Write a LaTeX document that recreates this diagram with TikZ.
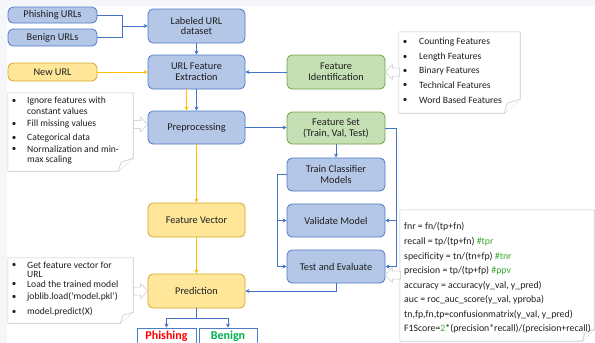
\documentclass[tikz,border=0pt]{standalone}
\usepackage{fontspec}
\setmainfont{Carlito}
\usetikzlibrary{arrows.meta,calc}
\definecolor{bFill}{HTML}{B4C7E7}
\definecolor{bBorder}{HTML}{4F7BC8}
\definecolor{gFill}{HTML}{C5E0B4}
\definecolor{gBorder}{HTML}{6FA34A}
\definecolor{yFill}{HTML}{FFE699}
\definecolor{yBorder}{HTML}{D4AA2A}
\definecolor{bLine}{HTML}{4472C4}
\definecolor{yLine}{HTML}{FFC000}
\definecolor{noteLine}{HTML}{C8C8C8}
\definecolor{txt}{HTML}{1E1E1E}
\definecolor{hashG}{HTML}{3BAA34}
\definecolor{phRed}{HTML}{FF0000}
\definecolor{bnGreen}{HTML}{00B050}
\definecolor{bgFrame}{HTML}{F4F6FA}
\tikzset{
  box/.style={rounded corners=5, minimum width=97, minimum height=34, align=center,
    font=\fontsize{10.3}{10.8}\selectfont, text=txt, inner sep=1, line width=0.8},
  bluebox/.style={box, draw=bBorder, fill=bFill},
  greenbox/.style={box, draw=gBorder, fill=gFill},
  yellowbox/.style={box, draw=yBorder, fill=yFill},
  outbox/.style={draw=bBorder, fill=white, line width=0.8, minimum width=59, minimum height=17,
    font=\fontsize{12}{13}\selectfont\bfseries, inner sep=0},
  bl/.style={draw=bLine, line width=1, -{Stealth[length=4,width=4]}},
  blp/.style={draw=bLine, line width=1},
  yl/.style={draw=yLine, line width=1, -{Stealth[length=4,width=4]}},
  notepath/.style={draw=noteLine, fill=white, line width=0.6},
  hollow/.style={draw=gray!45, fill=white, line width=0.5},
  notetxt/.style={anchor=west, inner sep=0, text=txt, font=\fontsize{9.6}{10}\selectfont},
  mtxt/.style={anchor=west, inner sep=0, text=txt, font=\fontsize{9.8}{10}\selectfont},
  bul/.style={anchor=center, inner sep=0, text=txt, font=\fontsize{9}{10}\selectfont},
  frame/.style={inner sep=0, minimum width=0, minimum height=0}
}
\begin{document}
\begin{tikzpicture}[x=1pt, y=-1pt]
\useasboundingbox (0,0) rectangle (595,343);
\clip (0,0) rectangle (595,343);
\fill[bgFrame] (0,0) rectangle (595,343);
\fill[white] (7,6) rectangle (595,343);

% main boxes
\node[bluebox, minimum width=89, minimum height=16] (phish) at (52.5,15) {Phishing URLs};
\node[bluebox, minimum width=89, minimum height=17] (benign) at (52.5,37.5) {Benign URLs};
\node[yellowbox, minimum width=89, minimum height=18] (newurl) at (52.5,72) {New URL};
\node[bluebox] (labeled) at (196.5,26) {Labeled URL\\dataset};
\node[bluebox] (extract) at (196.5,72) {URL Feature\\Extraction};
\node[greenbox, minimum width=98] (featid) at (336,72) {Feature\\Identification};
\node[bluebox, minimum height=33] (prep) at (196.5,127.5) {Preprocessing};
\node[greenbox, minimum width=98, minimum height=32] (featset) at (336,128) {Feature Set\\(Train, Val, Test)};
\node[bluebox, minimum width=98, minimum height=33] (train) at (336,174.5) {Train Classifier\\Models};
\node[bluebox, minimum width=98, minimum height=33] (validate) at (336,220.5) {Validate Model};
\node[bluebox, minimum width=98, minimum height=33] (testeval) at (336,266.5) {Test and Evaluate};
\node[yellowbox] (fvec) at (196.5,220) {Feature Vector};
\node[yellowbox] (pred) at (196.5,291) {Prediction};
\node[outbox, text=phRed] (phout) at (166.5,336.5) {Phishing};
\node[outbox, minimum width=58, text=bnGreen] (benout) at (228,336.5) {Benign};

% connectors
\coordinate (j1) at (122,26);
\draw[blp] (phish.east) -| (j1);
\draw[blp] (benign.east) -| (j1);
\draw[bl] (j1) -- (labeled.west);
\draw[bl] (labeled) -- (extract);
\draw[yl] (newurl) -- (extract);
\draw[bl] (featid) -- (extract);
\draw[yl] ([xshift=-10pt]extract.south) -- ([xshift=-10pt]prep.north);
\draw[bl] (extract) -- (prep);
\draw[bl] (prep.east) -- (prep.east -| featset.west);
\draw[yl] (prep) -- (fvec);
\draw[yl] (fvec) -- (pred);
\draw[bl] (featset) -- (train);
\coordinate (r1) at (396,0);
\draw[bl] (featset.east) -| (r1 |- testeval.east) -- (testeval.east);
\draw[bl] (r1 |- validate.east) -- (validate.east);
\coordinate (l1) at (277,0);
\draw[bl] (train.west) -| (l1 |- testeval.west) -- (testeval.west);
\draw[bl] (l1 |- validate.west) -- (validate.west);
\draw[bl] (testeval.south) |- (pred.east);
\coordinate (pj) at (196.5,318);
\draw[blp] (pred.south) -- (pj);
\draw[bl] (pj) -| (phout.north);
\draw[bl] (pj) -| (benout.north);

% note frames
\node[frame, minimum width=121, minimum height=81] (nTR) at (459.5,72.5) {};
\draw[notepath] (nTR.north west) -- (nTR.north east) -- ($(nTR.south east)+(0,-14)$)
  -- ($(nTR.south east)+(-16,0)$) -- (nTR.south west) -- cycle;
\draw[notepath] ($(nTR.south east)+(-16,0)$) -- ($(nTR.south east)+(-13,-10)$) -- ($(nTR.south east)+(0,-14)$);

\node[frame, minimum width=125, minimum height=78] (nL) at (70.5,132) {};
\draw[notepath] (nL.north west) -- (nL.north east) -- ($(nL.south east)+(0,-13)$)
  -- ($(nL.south east)+(-15,0)$) -- (nL.south west) -- cycle;
\draw[notepath] ($(nL.south east)+(-15,0)$) -- ($(nL.south east)+(-12,-9)$) -- ($(nL.south east)+(0,-13)$);

\node[frame, minimum width=125, minimum height=65] (nBL) at (70.5,290.5) {};
\draw[notepath] (nBL.north west) -- (nBL.north east) -- ($(nBL.south east)+(0,-11)$)
  -- ($(nBL.south east)+(-13,0)$) -- (nBL.south west) -- cycle;
\draw[notepath] ($(nBL.south east)+(-13,0)$) -- ($(nBL.south east)+(-10,-8)$) -- ($(nBL.south east)+(0,-11)$);

\node[frame, minimum width=194, minimum height=131] (nM) at (497,275.5) {};
\draw[notepath] (nM.north west) -- (nM.north east) -- ($(nM.south east)+(0,-12)$)
  -- ($(nM.south east)+(-12,0)$) -- (nM.south west) -- cycle;
\draw[notepath] ($(nM.south east)+(-12,0)$) -- ($(nM.south east)+(-9,-9)$) -- ($(nM.south east)+(0,-12)$);

% hollow block arrows
\draw[hollow] (featid.east) -- ++(7,-7.5) -- ++(0,3.5) -- ++(7,0) -- ++(0,8) -- ++(-7,0) -- ++(0,3.5) -- cycle;
\draw[hollow] ($(prep.west)+(0,-3)$) -- ++(-7,-7.5) -- ++(0,3.5) -- ++(-7,0) -- ++(0,8) -- ++(7,0) -- ++(0,3.5) -- cycle;
\draw[hollow] (pred.west) -- ++(-7,-7.5) -- ++(0,3.5) -- ++(-7,0) -- ++(0,8) -- ++(7,0) -- ++(0,3.5) -- cycle;
\draw[hollow] ($(testeval.east)+(0,8.5)$) -- ++(7,-7.5) -- ++(0,3.5) -- ++(8,0) -- ++(0,8) -- ++(-8,0) -- ++(0,3.5) -- cycle;

% top-right note text
\foreach \yy/\tt [count=\i] in {42/Counting Features, 57/Length Features, 71/Binary Features, 85/Technical Features, 100/Word Based Features}{
  \node[bul] (tb\i) at (405,\yy) {•};
  \node[notetxt] (tt\i) at (419,\yy) {\tt};
}

% left note text
\node[bul] (lb1) at (14,101) {•};
\node[notetxt] (lt1) at (27,101) {Ignore features with};
\node[notetxt] (lt1b) at (27,111.5) {constant values};
\node[bul] (lb2) at (14,124) {•};
\node[notetxt] (lt2) at (27,124) {Fill missing values};
\node[bul] (lb3) at (14,138) {•};
\node[notetxt] (lt3) at (27,138) {Categorical data};
\node[bul] (lb4) at (14,149) {•};
\node[notetxt] (lt4) at (27,149) {Normalization and min-};
\node[notetxt] (lt4b) at (27,159.5) {max scaling};

% bottom-left note text
\node[bul] (bb1) at (14,265) {•};
\node[notetxt] (bt1) at (27,265) {Get feature vector for};
\node[notetxt] (bt1b) at (27,274.5) {URL};
\node[bul] (bb2) at (14,284) {•};
\node[notetxt] (bt2) at (27,284) {Load the trained model};
\node[bul] (bb3) at (14,297) {•};
\node[notetxt] (bt3) at (27,297) {joblib.load(‘model.pkl’)};
\node[bul] (bb4) at (14,312) {•};
\node[notetxt] (bt4) at (27,312) {model.predict(X)};

% metrics note text
\node[mtxt] (m1) at (404,227) {fnr = fn/(tp+fn)};
\node[mtxt] (m2) at (404,242) {recall = tp/(tp+fn) \textcolor{hashG}{\#tpr}};
\node[mtxt] (m3) at (404,257) {specificity = tn/(tn+fp) \textcolor{hashG}{\#tnr}};
\node[mtxt] (m4) at (404,271) {precision = tp/(tp+fp) \textcolor{hashG}{\#ppv}};
\node[mtxt] (m5) at (404,286) {accuracy = accuracy(y\_val, y\_pred)};
\node[mtxt] (m6) at (404,300) {auc = roc\_auc\_score(y\_val, yproba)};
\node[mtxt] (m7) at (404,314.5) {tn,fp,fn,tp=confusionmatrix(y\_val, y\_pred)};
\node[mtxt] (m8) at (404,329) {F1Score=\textcolor{hashG}{2}*(precision*recall)/(precision+recall)};
\end{tikzpicture}
\end{document}
